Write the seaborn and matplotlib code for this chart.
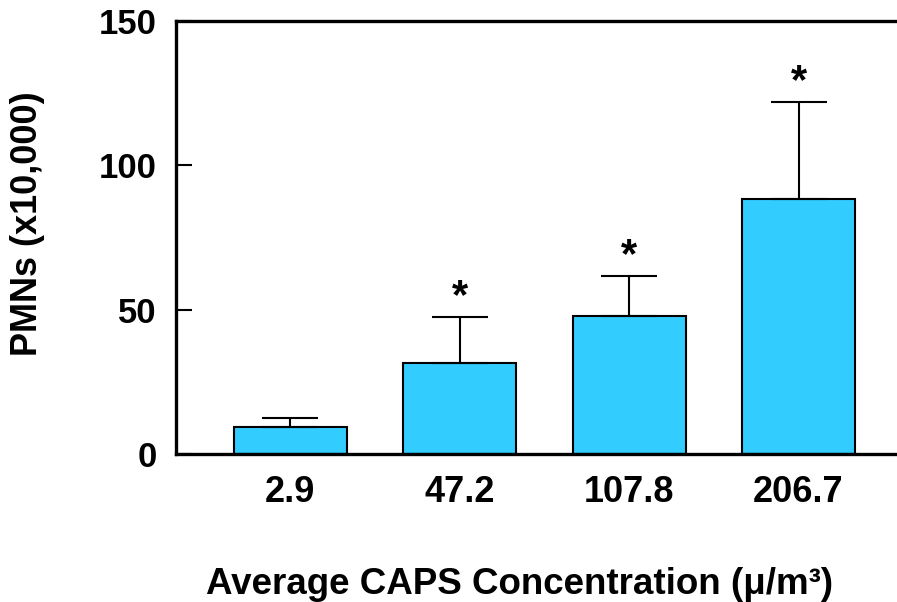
import matplotlib
matplotlib.use("Agg")
import matplotlib.pyplot as plt
import seaborn as sns

# data
concentrations = ["2.9", "47.2", "107.8", "206.7"]
pmn_means = [9.4, 31.5, 47.8, 88.3]
pmn_err_upper = [3.1, 16.0, 13.9, 33.6]
significant = [False, True, True, True]

sns.set_style("white")
plt.rcParams['font.family'] = ['Liberation Sans', 'DejaVu Sans']
plt.rcParams['font.weight'] = 'bold'
plt.rcParams['text.color'] = 'black'
plt.rcParams['xtick.color'] = 'black'
plt.rcParams['ytick.color'] = 'black'
plt.rcParams['axes.labelcolor'] = 'black'

fig = plt.figure(figsize=(8.97, 6.02), dpi=100)
ax = fig.add_axes([0.1962, 0.2458, 0.8038, 0.7193])

sns.barplot(x=concentrations, y=pmn_means, color="#33CCFF", edgecolor="black",
            linewidth=1.5, width=0.667, saturation=1, ax=ax)

xs = list(range(len(concentrations)))
ax.errorbar(xs, pmn_means, yerr=[[0] * len(xs), pmn_err_upper], fmt="none",
            ecolor="black", elinewidth=1.5, capsize=20.5, capthick=1.5, zorder=1)

# significance markers
for x, m, e, s in zip(xs, pmn_means, pmn_err_upper, significant):
    if s:
        ax.annotate("*", (x, m + e), xytext=(0, 0), textcoords="offset points",
                    ha="center", va="bottom", fontsize=30, fontweight="bold")

ax.set_xlim(-0.673, 3.581)
ax.set_ylim(0, 150)
ax.set_yticks([0, 50, 100, 150])

for side in ["top", "bottom", "left"]:
    ax.spines[side].set_visible(True)
    ax.spines[side].set_linewidth(2.4)
    ax.spines[side].set_color("black")
ax.spines["right"].set_visible(False)

ax.tick_params(axis="y", direction="in", length=11.5, width=1.5, pad=14,
               labelsize=25, left=True)
ax.tick_params(axis="x", length=0, pad=15, labelsize=26)
for lbl in ax.get_xticklabels() + ax.get_yticklabels():
    lbl.set_fontweight("bold")

ax.set_ylabel("PMNs (x10,000)", fontsize=26, fontweight="bold")
ax.yaxis.set_label_coords(-0.182, 0.531)
ax.set_xlabel("Average CAPS Concentration (\u03bc/m\u00b3)", fontsize=26.5, fontweight="bold")
ax.xaxis.set_label_coords(0.477, -0.26)

fig.savefig("out.png", dpi=100)
